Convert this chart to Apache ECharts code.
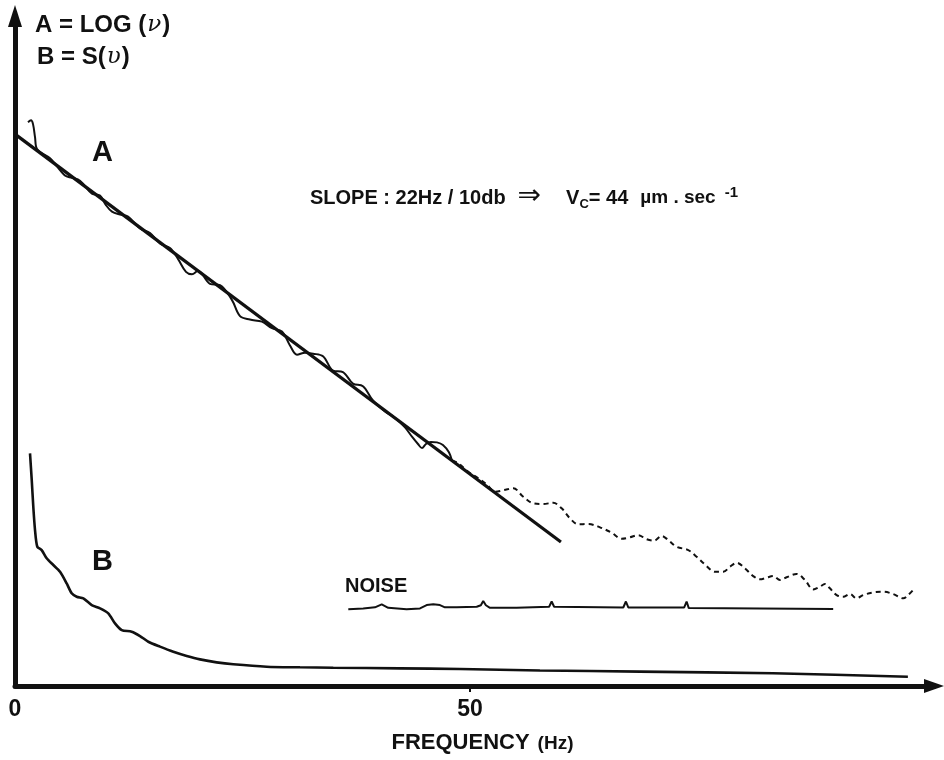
<!DOCTYPE html>
<html>
<head>
<meta charset="utf-8">
<title>Spectrum A / B vs frequency</title>
<script src="https://cdn.jsdelivr.net/npm/echarts@6/dist/echarts.min.js"></script>
<style>
  html, body { margin: 0; padding: 0; background: #fff; }
  #chart { width: 944px; height: 760px; }
</style>
</head>
<body>
<div id="chart"></div>
<script>
// Frequency axis (Hz) and the ticks that carry labels
const xTicks = [0, 50];

// A: straight-line fit of LOG(nu), in dB (slope 10 dB per 22 Hz)
const fitHz = [0, 60];
const fitDb = [36.9, 9.63];

// A: measured log spectrum (solid part)
const aHz = [1.43, 1.76, 1.98, 2.20, 2.42, 3.85, 5.49, 6.26, 7.14, 8.46, 9.34, 10.0, 10.66, 11.54, 12.42,
  13.74, 14.84, 15.93, 17.03, 17.91, 18.79, 19.45, 20.11, 21.43, 22.53, 23.85, 24.73, 25.82, 27.14, 28.24,
  29.34, 30.22, 30.99, 31.87, 32.75, 33.85, 34.95, 36.04, 37.14, 38.24, 39.34, 40.66, 41.76, 42.86, 43.63,
  44.29, 44.73, 45.16, 45.71, 46.37, 47.03, 47.69, 48.02];
const aDb = [37.70, 37.83, 37.57, 36.70, 35.90, 35.29, 34.13, 33.98, 33.78, 32.92, 32.79, 32.15, 31.72, 31.52, 31.39,
  30.59, 30.29, 29.59, 29.29, 28.56, 27.69, 27.53, 27.76, 26.89, 26.80, 25.80, 24.73, 24.50, 24.36, 23.93,
  23.70, 22.77, 22.15, 22.29, 22.22, 22.05, 21.09, 20.99, 20.22, 20.05, 19.09, 18.36, 17.92, 17.29, 16.67,
  16.18, 15.91, 16.18, 16.32, 16.29, 16.12, 15.63, 15.07];

// A: measured log spectrum continued into the noise (dashed part)
const a2Hz = [48.02, 48.68, 49.78, 50.88, 51.87, 52.75, 53.74, 54.76, 55.86, 56.96, 58.05, 59.15, 60.08, 60.99, 61.90,
  63.0, 64.29, 65.57, 66.67, 67.58, 68.49, 69.42, 70.22, 71.07, 71.79, 72.71, 73.99, 74.91, 75.82, 76.92,
  77.84, 78.57, 79.31, 80.22, 81.13, 81.87, 82.60, 83.33, 84.07, 84.80, 85.90, 86.81, 87.73, 88.46, 89.01,
  89.56, 90.30, 91.02, 91.76, 92.49, 93.22, 94.32, 95.42, 96.52, 97.62, 98.16, 98.71];
const a2Db = [15.07, 14.91, 14.34, 13.91, 13.46, 12.99, 13.10, 13.22, 12.65, 12.21, 12.17, 12.25, 11.88, 11.21, 10.81,
  10.83, 10.61, 10.25, 9.85, 9.94, 10.09, 9.81, 9.71, 10.03, 9.76, 9.31, 9.09, 8.64, 8.13, 7.64,
  7.64, 7.97, 8.24, 7.87, 7.35, 7.13, 7.24, 7.35, 7.09, 7.27, 7.49, 7.09, 6.46, 6.64, 6.82,
  6.53, 6.08, 5.97, 6.15, 5.86, 6.08, 6.26, 6.30, 6.15, 5.86, 6.08, 6.42];

// Noise floor trace
const noiseHz = [36.63, 38.27, 39.56, 40.30, 41.02, 43.04, 44.51, 45.24, 45.97, 46.70, 47.25, 48.54, 50.74, 51.20, 51.46,
  51.75, 52.20, 55.13, 58.70, 58.98, 59.25, 66.85, 67.14, 67.40, 73.55, 73.81, 74.05, 81.87, 89.92];
const noiseDb = [5.13, 5.19, 5.26, 5.46, 5.23, 5.13, 5.19, 5.41, 5.46, 5.41, 5.26, 5.26, 5.30, 5.40, 5.68,
  5.40, 5.23, 5.23, 5.30, 5.65, 5.30, 5.25, 5.65, 5.25, 5.25, 5.65, 5.21, 5.18, 5.15];

// B: power spectrum S(nu)
const bHz = [1.65, 1.84, 2.01, 2.20, 2.45, 2.93, 3.48, 4.21, 4.95, 5.68, 6.23, 6.78, 7.51, 8.43, 9.34,
  10.25, 10.99, 11.73, 12.82, 13.74, 14.65, 15.93, 17.40, 18.87, 20.33, 22.16, 23.99, 27.66, 31.32, 34.98,
  42.31, 48.90, 57.69, 68.68, 83.30, 98.13];
const bDb = [15.55, 13.77, 11.99, 10.43, 9.31, 9.09, 8.54, 8.09, 7.64, 6.86, 6.20, 5.97, 5.86, 5.41, 5.19,
  4.86, 4.19, 3.74, 3.63, 3.34, 2.96, 2.63, 2.29, 2.01, 1.78, 1.58, 1.45, 1.29, 1.25, 1.22,
  1.18, 1.14, 1.04, 0.96, 0.85, 0.62];

const zip = (xs, ys) => xs.map((x, i) => [x, ys[i]]);

const INK = '#111';
const FONT = '"Liberation Sans", Arial, Helvetica, sans-serif';
const SERIF = '"DejaVu Serif", "Liberation Serif", serif';

const chart = echarts.init(document.getElementById('chart'), null, { renderer: 'canvas' });

const lineSeries = (name, data, style, smooth) => ({
  name, type: 'line', data, symbol: 'none', smooth: smooth,
  lineStyle: Object.assign({ color: INK }, style),
  emphasis: { disabled: true }, silent: true, animation: false
});

// rich-text styles shared by the two captions at the top left
const captionRich = {
  t: { font: 'bold 24px ' + FONT, fill: INK, lineHeight: 28, verticalAlign: 'middle' },
  g: { font: 'italic 23px ' + SERIF, fill: INK, lineHeight: 28, verticalAlign: 'middle', padding: [0, 1, 0, 1] }
};

chart.setOption({
  animation: false,
  backgroundColor: '#fff',
  grid: { left: 15, right: 10, top: 16, bottom: 74, containLabel: false },
  xAxis: {
    type: 'value', min: 0, max: 101,
    axisLine: {
      show: true, onZero: false,
      symbol: ['none', 'triangle'], symbolSize: [14, 20],
      lineStyle: { color: INK, width: 5 }
    },
    axisTick: { show: true, customValues: [50], length: 6, inside: false, lineStyle: { color: INK, width: 2 } },
    axisLabel: {
      customValues: xTicks, margin: 12,
      color: INK, fontFamily: FONT, fontWeight: 'bold', fontSize: 23
    },
    splitLine: { show: false },
    name: '{a|FREQUENCY}{b|(Hz)}',
    nameLocation: 'middle', nameGap: 46,
    nameTextStyle: {
      rich: {
        a: { fontFamily: FONT, fontWeight: 'bold', fontSize: 22, color: INK, padding: [0, 0, 0, 16], verticalAlign: 'bottom' },
        b: { fontFamily: FONT, fontWeight: 'bold', fontSize: 19, color: INK, padding: [0, 0, 1, 8], verticalAlign: 'bottom' }
      }
    }
  },
  yAxis: {
    type: 'value', min: 0, max: 44.8,
    axisLine: {
      show: true, onZero: false,
      symbol: ['none', 'triangle'], symbolSize: [14, 22],
      lineStyle: { color: INK, width: 5 }
    },
    axisTick: { show: false },
    axisLabel: { show: false },
    splitLine: { show: false }
  },
  series: [
    lineSeries('A fit', zip(fitHz, fitDb), { width: 3.2 }, false),
    lineSeries('A', zip(aHz, aDb), { width: 2 }, 0.35),
    lineSeries('A (continued)', zip(a2Hz, a2Db), { width: 2, type: [5, 4] }, 0.35),
    lineSeries('Noise', zip(noiseHz, noiseDb), { width: 2 }, false),
    lineSeries('B', zip(bHz, bDb), { width: 2.6 }, 0.25)
  ],
  graphic: [
    { type: 'text', left: 35, top: 13, silent: true,
      style: { text: '{t|A = LOG (}{g|\u03BD}{t|)}', rich: captionRich } },
    { type: 'text', left: 37, top: 45, silent: true,
      style: { text: '{t|B = S(}{g|\u03C5}{t|)}', rich: captionRich } },
    { type: 'text', left: 92, top: 138, silent: true,
      style: { text: 'A', font: 'bold 29px ' + FONT, fill: INK } },
    { type: 'text', left: 92, top: 547, silent: true,
      style: { text: 'B', font: 'bold 29px ' + FONT, fill: INK } },
    { type: 'text', left: 345, top: 576, silent: true,
      style: { text: 'NOISE', font: 'bold 20px ' + FONT, fill: INK } },
    { type: 'text', left: 310, top: 183, silent: true,
      style: {
        text: '{m|SLOPE : 22Hz / 10db}{ar|\u21D2}{m|V}{s|C}{m|= 44}{r|\u00B5m . sec}{p|-1}',
        rich: {
          m: { font: 'bold 20px ' + FONT, fill: INK, lineHeight: 26, verticalAlign: 'middle' },
          ar: { font: '28px "DejaVu Sans", sans-serif', fill: INK, lineHeight: 26, verticalAlign: 'middle',
                padding: [0, 25, 2, 12] },
          r: { font: 'bold 19px ' + FONT, fill: INK, lineHeight: 26, verticalAlign: 'middle',
               padding: [0, 0, 0, 12] },
          s: { font: 'bold 13px ' + FONT, fill: INK, lineHeight: 13, verticalAlign: 'bottom' },
          p: { font: 'bold 15px ' + FONT, fill: INK, lineHeight: 15, verticalAlign: 'top',
               padding: [0, 0, 0, 9] }
        }
      } }
  ]
});
</script>
</body>
</html>
